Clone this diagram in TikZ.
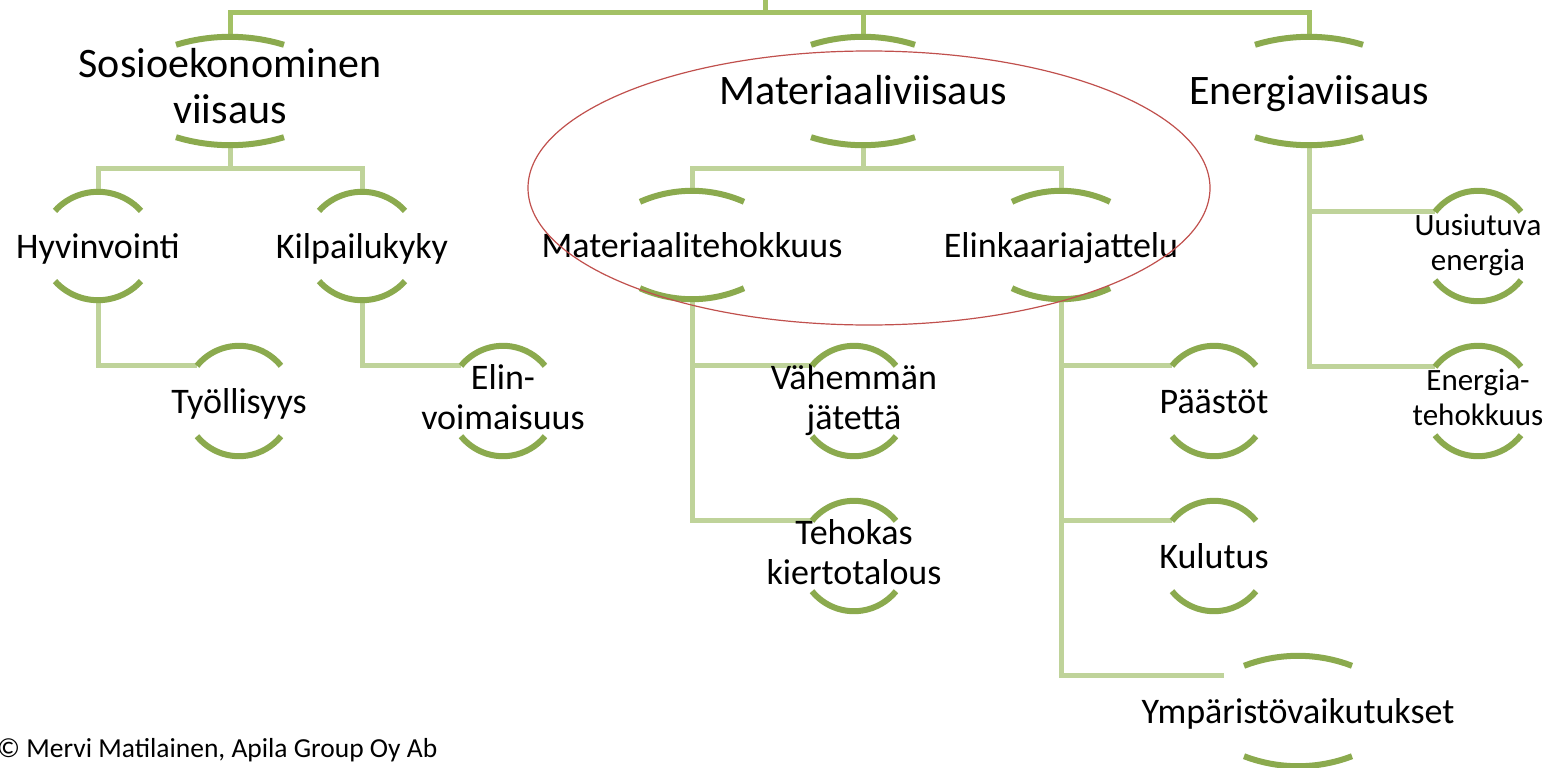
\documentclass[tikz,border=0pt]{standalone}
\usepackage{fontspec}
\setmainfont{Carlito}
\usetikzlibrary{backgrounds}

\definecolor{arcgreen}{RGB}{139,170,78}
\definecolor{topgreen}{RGB}{163,193,101}
\definecolor{linkgreen}{RGB}{191,211,154}
\definecolor{ringred}{RGB}{192,80,77}

% strut with 8pt more room on top, so text sits a little lower
\newcommand{\lowstrut}{\rule[-0.3\baselineskip]{0pt}{\dimexpr\baselineskip+8pt\relax}}
% two centred lines
\newcommand{\twoline}[2]{\begin{tabular}{@{}c@{}}#1\\#2\end{tabular}}

\tikzset{
  arcline/.style={draw=arcgreen, line width=6pt},
  toplink/.style={draw=topgreen, line width=5pt},
  link/.style={draw=linkgreen, line width=5pt},
  ring/.style={draw=ringred, line width=1.2pt},
  boxed/.style={inner sep=0pt, execute at begin node=\lowstrut, execute at end node=\strut},
  topic/.style={boxed, minimum height=108pt, font=\fontsize{42}{46}\selectfont},
  subtopic/.style={boxed, minimum height=110pt, font=\fontsize{36}{40}\selectfont},
  smalltopic/.style={boxed, minimum height=110pt, font=\fontsize{31}{35}\selectfont},
  twolines/.style={execute at begin node={}, execute at end node={}},
}

% the two brackets round a node: node, half width, sag
\newcommand{\arcpair}[3]{%
  \pgfmathsetmacro\arcR{(#2*#2+#3*#3)/(2*#3)}
  \pgfmathsetmacro\arcA{asin(#2/\arcR)}
  \draw[arcline] ([shift={(-#2,#3)}]#1.north) coordinate (#1-in)
    arc[start angle=270-\arcA, end angle=270+\arcA, radius=\arcR];
  \draw[arcline] ([shift={(-#2,-#3)}]#1.south)
    arc[start angle=90+\arcA, end angle=90-\arcA, radius=\arcR];
}

\begin{document}
\begin{tikzpicture}[x=1pt,y=-1pt]
    \useasboundingbox (0,0) rectangle (1566,768);

    % first level
    \node[topic, twolines] (sosio) at (230,91) {\twoline{Sosioekonominen}{viisaus}};
    \node[topic] (mat) at (863,91) {Materiaaliviisaus};
    \node[topic] (ener) at (1309,91) {Energiaviisaus};
    \arcpair{sosio}{54}{8}
    \arcpair{mat}{52}{8}
    \arcpair{ener}{54}{8}

    % second level
    \node[subtopic, minimum height=108pt] (hyv) at (98,246) {Hyvinvointi};
    \node[subtopic, minimum height=108pt] (kil) at (362,246) {Kilpailukyky};
    \node[subtopic, minimum height=108pt] (mth) at (692,245) {Materiaalitehokkuus};
    \node[subtopic, minimum height=108pt] (elk) at (1061,245) {Elinkaariajattelu};
    \arcpair{hyv}{43}{19}
    \arcpair{kil}{43}{19}
    \arcpair{mth}{52}{11}
    \arcpair{elk}{49}{11}

    % leaves
    \node[subtopic] (tyo) at (239,401) {Työllisyys};
    \node[subtopic, twolines] (elinv) at (503,401) {\twoline{Elin-}{voimaisuus}};
    \node[subtopic, twolines] (vah) at (854,401) {\twoline{Vähemmän}{jätettä}};
    \node[subtopic, twolines] (teh) at (854,556) {\twoline{Tehokas}{kiertotalous}};
    \node[subtopic] (paa) at (1214,401) {Päästöt};
    \node[subtopic] (kul) at (1214,556) {Kulutus};
    \node[subtopic] (ymp) at (1298,711) {Ympäristövaikutukset};
    \node[smalltopic, twolines] (uus) at (1478,246) {\twoline{Uusiutuva}{energia}};
    \node[smalltopic, twolines] (ete) at (1478,401) {\twoline{Energia-}{tehokkuus}};
    \arcpair{tyo}{42}{20}
    \arcpair{elinv}{42}{20}
    \arcpair{vah}{42}{20}
    \arcpair{teh}{42}{20}
    \arcpair{paa}{42}{20}
    \arcpair{kul}{42}{20}
    \arcpair{ymp}{54}{10}
    \arcpair{uus}{43}{21}
    \arcpair{ete}{43}{21}

    % connectors
    \begin{scope}[on background layer]
        \coordinate (root) at (765,-5);
        \coordinate (bus) at (765,13);
        \draw[toplink] (root) -- (bus);
        \draw[toplink] (sosio.north) |- (bus) -| (ener.north);
        \draw[toplink] (mat.north) -- (mat.north |- bus);

        \draw[link] (sosio.south) -- ++(0,23) coordinate (sfork);
        \draw[link] (hyv.north) |- (sfork) -| (kil.north);
        \draw[link] (mat.south) -- ++(0,23) coordinate (mfork);
        \draw[link] (mth.north) |- (mfork) -| (elk.north);

        \draw[link] (hyv.south) |- (tyo-in);
        \draw[link] (kil.south) |- (elinv-in);
        \draw[link] (mth.south) |- (teh-in);
        \draw[link] (mth.south |- vah-in) -- (vah-in);
        \draw[link] (elk.south) |- ([shift={(-20,10)}]ymp-in);
        \draw[link] (elk.south |- paa-in) -- (paa-in);
        \draw[link] (elk.south |- kul-in) -- (kul-in);
        \draw[link] (ener.south) |- (ete-in);
        \draw[link] (ener.south |- uus-in) -- (uus-in);
    \end{scope}

    \draw[ring] (869,188) ellipse [x radius=341, y radius=137];

    \node[anchor=base west, inner sep=0pt, font=\fontsize{27.5}{32}\selectfont] (copy) at (-3,757) {© Mervi Matilainen, Apila Group Oy Ab};
\end{tikzpicture}
\end{document}
